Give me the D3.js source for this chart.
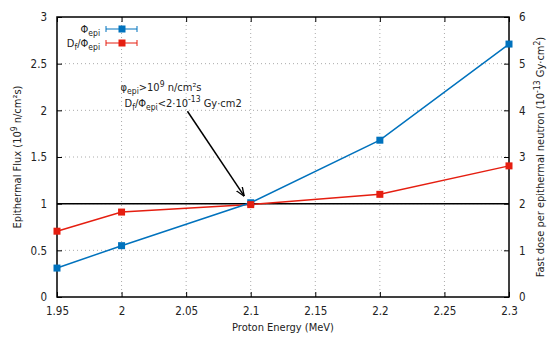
<!DOCTYPE html>
<html>
<head>
<meta charset="utf-8">
<script src="https://cdn.jsdelivr.net/npm/d3@7"></script>
<style>
  body { margin: 0; background: #fff; }
  text { font-family: "DejaVu Sans Condensed", "DejaVu Sans", sans-serif; font-size: 11px; fill: #222; }
</style>
</head>
<body>
<div class="graph"></div>
<script>
const width = 549;
const height = 337;
const margin = { top: 17, right: 40, bottom: 40, left: 57 };

const energy = [1.95, 2.0, 2.1, 2.2, 2.3];
const flux = [0.31, 0.55, 1.01, 1.68, 2.71];
const dose = [1.41, 1.82, 1.98, 2.2, 2.81];
const xTicks = [1.95, 2, 2.05, 2.1, 2.15, 2.2, 2.25, 2.3];
const yTicks = [0, 0.5, 1, 1.5, 2, 2.5, 3];
const y2Ticks = [0, 1, 2, 3, 4, 5, 6];

const blue = "#0072bd";
const red = "#e51e10";

const svg = d3.select(".graph")
  .append("svg")
  .attr("width", width)
  .attr("height", height);

const x = d3.scaleLinear()
  .domain([1.95, 2.3])
  .range([margin.left, width - margin.right]);
const y = d3.scaleLinear()
  .domain([0, 3])
  .range([height - margin.bottom, margin.top]);
const y2 = d3.scaleLinear()
  .domain([0, 6])
  .range([height - margin.bottom, margin.top]);

// grid
svg.append("g")
  .selectAll("line")
  .data(xTicks.slice(1, -1))
  .enter().append("line")
  .attr("x1", d => x(d)).attr("x2", d => x(d))
  .attr("y1", margin.top).attr("y2", height - margin.bottom)
  .attr("stroke", "#aaa").attr("stroke-width", 1)
  .attr("stroke-dasharray", "1,3");
svg.append("g")
  .selectAll("line")
  .data(yTicks.slice(1, -1))
  .enter().append("line")
  .attr("x1", margin.left).attr("x2", width - margin.right)
  .attr("y1", d => y(d)).attr("y2", d => y(d))
  .attr("stroke", "#aaa").attr("stroke-width", 1)
  .attr("stroke-dasharray", "1,3");

// axes
const fmt = d => String(d);
svg.append("g")
  .attr("transform", `translate(0, ${height - margin.bottom})`)
  .call(d3.axisBottom(x).tickValues(xTicks).tickFormat(fmt).tickSizeInner(-5).tickSizeOuter(0).tickPadding(10));
svg.append("g")
  .attr("transform", `translate(0, ${margin.top})`)
  .call(d3.axisTop(x).tickValues(xTicks).tickFormat("").tickSizeInner(-5).tickSizeOuter(0));
svg.append("g")
  .attr("transform", `translate(${margin.left}, 0)`)
  .call(d3.axisLeft(y).tickValues(yTicks).tickFormat(fmt).tickSizeInner(-5).tickSizeOuter(0).tickPadding(10));
svg.append("g")
  .attr("transform", `translate(${width - margin.right}, 0)`)
  .call(d3.axisRight(y2).tickValues(y2Ticks).tickFormat(fmt).tickSizeInner(-5).tickSizeOuter(0).tickPadding(10));

svg.selectAll(".domain").remove();
svg.selectAll(".tick line").attr("stroke", "#000");
svg.selectAll(".tick text")
  .style("font-family", "'DejaVu Sans Condensed', 'DejaVu Sans', sans-serif")
  .style("font-size", "11.5px").attr("fill", "#222");

svg.append("rect")
  .attr("x", margin.left).attr("y", margin.top)
  .attr("width", width - margin.left - margin.right)
  .attr("height", height - margin.top - margin.bottom)
  .attr("fill", "none").attr("stroke", "#000").attr("stroke-width", 1.5);

// reference line at 1
svg.append("line")
  .attr("x1", x(1.95)).attr("x2", x(2.3))
  .attr("y1", y(1)).attr("y2", y(1))
  .attr("stroke", "#000").attr("stroke-width", 1.5);

// series
const lineFlux = d3.line().x((d, i) => x(energy[i])).y(d => y(d));
const lineDose = d3.line().x((d, i) => x(energy[i])).y(d => y2(d));

svg.append("path").datum(dose)
  .attr("d", lineDose).attr("fill", "none").attr("stroke", red).attr("stroke-width", 1.5);
svg.append("path").datum(flux)
  .attr("d", lineFlux).attr("fill", "none").attr("stroke", blue).attr("stroke-width", 1.5);

svg.selectAll(".pf").data(flux).enter().append("rect")
  .attr("x", (d, i) => x(energy[i]) - 3.5).attr("y", d => y(d) - 3.5)
  .attr("width", 7).attr("height", 7).attr("fill", blue);
svg.selectAll(".pd").data(dose).enter().append("rect")
  .attr("x", (d, i) => x(energy[i]) - 3.5).attr("y", d => y2(d) - 3.5)
  .attr("width", 7).attr("height", 7).attr("fill", red);

// legend
const legend = [
  { name: "Φ", sub: "epi", color: blue },
  { name: "D", sub: "f", name2: "/Φ", sub2: "epi", color: red }
];
legend.forEach((d, i) => {
  const ly = 29 + i * 14;
  const t = svg.append("text").attr("x", 100).attr("y", ly + 4).attr("text-anchor", "end");
  t.append("tspan").text(d.name);
  t.append("tspan").attr("dy", 3).style("font-size", "8.5px").text(d.sub);
  if (d.name2) {
    t.append("tspan").attr("dy", -3).text(d.name2);
    t.append("tspan").attr("dy", 3).style("font-size", "8.5px").text(d.sub2);
  }
  svg.append("line").attr("x1", 106).attr("x2", 137).attr("y1", ly).attr("y2", ly)
    .attr("stroke", d.color).attr("stroke-width", 1);
  svg.append("line").attr("x1", 106).attr("x2", 106).attr("y1", ly - 3).attr("y2", ly + 3)
    .attr("stroke", d.color);
  svg.append("line").attr("x1", 137).attr("x2", 137).attr("y1", ly - 3).attr("y2", ly + 3)
    .attr("stroke", d.color);
  svg.append("rect").attr("x", 118.5).attr("y", ly - 3.5).attr("width", 7).attr("height", 7)
    .attr("fill", d.color);
});

// annotation
const a1 = svg.append("text").attr("x", x(2.0) - 1).attr("y", 91);
a1.append("tspan").text("φ");
a1.append("tspan").attr("dy", 3).style("font-size", "8.5px").text("epi");
a1.append("tspan").attr("dy", -3).text(">10");
a1.append("tspan").attr("dy", -4).style("font-size", "8.5px").text("9");
a1.append("tspan").attr("dy", 4).text(" n/cm²s");
const a2 = svg.append("text").attr("x", x(2.0) + 3).attr("y", 107);
a2.append("tspan").text("D");
a2.append("tspan").attr("dy", 3).style("font-size", "8.5px").text("f");
a2.append("tspan").attr("dy", -3).text("/Φ");
a2.append("tspan").attr("dy", 3).style("font-size", "8.5px").text("epi");
a2.append("tspan").attr("dy", -3).text("<2·10");
a2.append("tspan").attr("dy", -5).style("font-size", "8.5px").text("-13");
a2.append("tspan").attr("dy", 5).text(" Gy·cm2");

svg.append("defs").append("marker")
  .attr("id", "arrow").attr("viewBox", "0 0 10 10")
  .attr("refX", 10).attr("refY", 5)
  .attr("markerWidth", 9).attr("markerHeight", 9)
  .attr("markerUnits", "userSpaceOnUse")
  .attr("orient", "auto")
  .append("path").attr("d", "M0,1 L10,5 L0,9").attr("fill", "none").attr("stroke", "#000").attr("stroke-width", 1.5);
svg.append("line")
  .attr("x1", x(2.051)).attr("y1", y(1.99))
  .attr("x2", x(2.095)).attr("y2", y(1.08))
  .attr("stroke", "#000").attr("stroke-width", 1.5)
  .attr("marker-end", "url(#arrow)");

// axis labels
svg.append("text")
  .attr("x", (margin.left + width - margin.right) / 2).attr("y", 331)
  .attr("text-anchor", "middle").text("Proton Energy (MeV)");
const yl = svg.append("text")
  .attr("transform", `translate(21, ${(margin.top + height - margin.bottom) / 2}) rotate(-90)`)
  .attr("text-anchor", "middle");
yl.append("tspan").text("Epithermal Flux (10");
yl.append("tspan").attr("dy", -4).style("font-size", "8.5px").text("9");
yl.append("tspan").attr("dy", 4).text(" n/cm²s)");
const yr = svg.append("text")
  .attr("transform", `translate(544, ${(margin.top + height - margin.bottom) / 2}) rotate(-90)`)
  .attr("text-anchor", "middle");
yr.append("tspan").text("Fast dose per epithermal neutron (10");
yr.append("tspan").attr("dy", -4).style("font-size", "8.5px").text("-13");
yr.append("tspan").attr("dy", 4).text(" Gy·cm");
yr.append("tspan").attr("dy", -4).style("font-size", "8.5px").text("2");
yr.append("tspan").attr("dy", 4).text(")");
</script>
</body>
</html>
